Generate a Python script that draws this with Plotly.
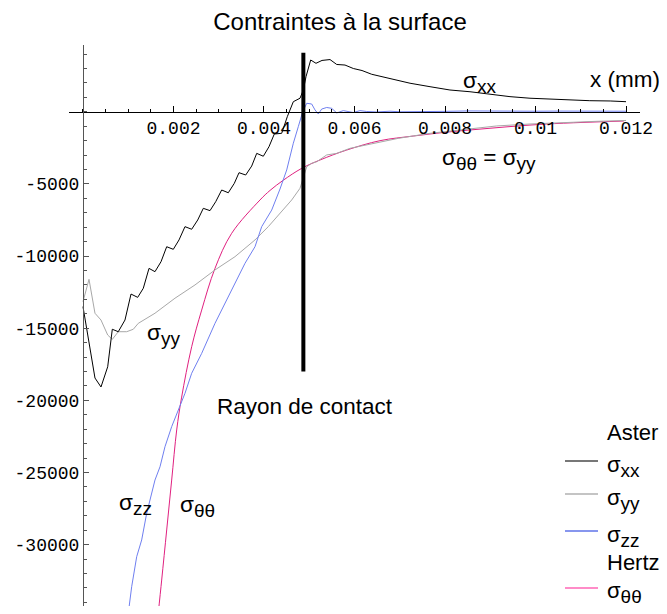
import plotly.graph_objects as go

# ---------------- data ----------------
x_xx = [0, 0.000265, 0.000398, 0.000546, 0.000648, 0.00078, 0.000928, 0.001061, 0.001209, 0.001333,
        0.001459, 0.001591, 0.001724, 0.00185, 0.001996, 0.002122, 0.002254, 0.002402, 0.002535, 0.002659,
        0.002807, 0.002933, 0.003065, 0.003211, 0.003344, 0.003448, 0.003596, 0.003728, 0.003839, 0.003985,
        0.00411, 0.004228, 0.004391, 0.004515, 0.004648, 0.004796, 0.004869, 0.004928, 0.005032, 0.005149,
        0.005282, 0.005459, 0.005607, 0.00579, 0.005974, 0.006166, 0.00638, 0.006785, 0.007227, 0.007669,
        0.00811, 0.008552, 0.008994, 0.009436, 0.009878, 0.01032, 0.01076, 0.0112, 0.01165, 0.012]
y_xx = [-13500, -18450, -19070, -17670, -15070, -15240, -14430, -12630, -12860, -12230,
        -10850, -11080, -10390, -9350, -9530, -8880, -7960, -8140, -7500, -6690,
        -6850, -6230, -5420, -5610, -4960, -4220, -4380, -3760, -2880, -3080,
        -2420, -1540, -1490, -340, 700, 940, 1510, 2430, 3590, 3360,
        3560, 3620, 3280, 3240, 3000, 2860, 2600, 2320, 1980, 1740,
        1510, 1390, 1210, 1050, 940, 870, 820, 770, 750, 700]

x_yy = [0, 0.000133, 0.000265, 0.000398, 0.000546, 0.000648, 0.00078, 0.000966, 0.001112, 0.001222,
        0.001591, 0.002033, 0.002475, 0.002917, 0.003359, 0.003801, 0.004095, 0.004391, 0.004612, 0.004796,
        0.004869, 0.004944, 0.005054, 0.005165, 0.005386, 0.005607, 0.005901, 0.00627, 0.006637, 0.006968,
        0.007669, 0.008404, 0.009142, 0.009878, 0.010614, 0.011352, 0.012]
y_yy = [-13160, -11610, -13960, -14430, -15470, -15770, -15240, -15240, -15070, -14660,
        -13960, -12920, -12000, -10960, -10040, -8880, -7960, -6920, -6110, -5300,
        -4500, -3810, -3570, -3460, -2990, -2880, -2530, -2300, -2070, -1840,
        -1490, -1210, -980, -845, -740, -660, -600]

x_zz = [0.001001, 0.001076, 0.001187, 0.001297, 0.001408, 0.001518, 0.001591, 0.001702, 0.001812, 0.00196,
        0.002106, 0.002254, 0.002402, 0.002623, 0.002917, 0.003249, 0.00358, 0.003801, 0.003949, 0.00417,
        0.004354, 0.004502, 0.004575, 0.004648, 0.004758, 0.004855, 0.004944, 0.005054, 0.005127, 0.0052,
        0.005275, 0.005386, 0.005496, 0.005607, 0.005753, 0.005974, 0.006122, 0.00627, 0.00649, 0.006785,
        0.007006, 0.0075, 0.008, 0.0085, 0.009, 0.0095, 0.01, 0.0105, 0.011, 0.0115, 0.012]
y_zz = [-34750, -32910, -30830, -29670, -27820, -26440, -25520, -24600, -23210, -21820,
        -20670, -19510, -18120, -16740, -14660, -12580, -10500, -9350, -7960, -6810,
        -5350, -4030, -3110, -2180, -1030, 0, 590, 540, 130, -150,
        190, 300, 240, -80, 80, -50, 80, 20, -10, 40,
        0, 40, 30, 60, 40, 50, 40, 50, 40, 50, 40]

x_tt = [0.001664, 0.001739, 0.00185, 0.00196, 0.002071, 0.002177, 0.002402, 0.002623, 0.002917, 0.003286,
        0.003912, 0.004133, 0.004427, 0.004833, 0.005238, 0.005828, 0.006564, 0.0073, 0.008038, 0.008773,
        0.009878, 0.010614, 0.01195]
y_tt = [-34730, -32450, -28980, -25520, -22050, -19830, -16280, -13740, -10850, -8420,
        -6110, -5450, -4740, -3920, -3340, -2650, -2000, -1680, -1410, -1200,
        -920, -790, -640]

contact_x = [0.00487, 0.00487]
contact_y = [4100, -18000]

x_tickvals = [0.002, 0.004, 0.006, 0.008, 0.010, 0.012]
x_ticktext = ["0.002", "0.004", "0.006", "0.008", "0.01", "0.012"]
y_tickvals = [-30000, -25000, -20000, -15000, -10000, -5000]
y_ticktext = ["-30000", "-25000", "-20000", "-15000", "-10000", "-5000"]

x_range = [-0.000309, 0.012309]
y_range = [-34248, 4629]

legend_labels = ["Aster", "xx", "yy", "zz", "Hertz", "θθ"]
legend_colors = [None, "#777777", "#c4c4c4", "#8796ee", None, "#ff8cc8"]

SANS = "Liberation Sans, Arial, sans-serif"
MONO = "Liberation Mono, Courier New, monospace"


def sig(sub, size=19):
    return "σ<sub><span style='font-size:%spx'>%s</span></sub>" % (size, sub)


fig = go.Figure()

fig.add_trace(go.Scatter(x=x_tt, y=y_tt, mode="lines", line=dict(color="#e0207f", width=1, shape="spline"),
                         showlegend=False, hoverinfo="skip"))
fig.add_trace(go.Scatter(x=x_yy, y=y_yy, mode="lines", line=dict(color="#a8a8a8", width=1),
                         showlegend=False, hoverinfo="skip"))
fig.add_trace(go.Scatter(x=x_zz, y=y_zz, mode="lines", line=dict(color="#6f7ff0", width=1),
                         showlegend=False, hoverinfo="skip"))
fig.add_trace(go.Scatter(x=x_xx, y=y_xx, mode="lines", line=dict(color="#000000", width=1),
                         showlegend=False, hoverinfo="skip"))
fig.add_trace(go.Scatter(x=contact_x, y=contact_y, mode="lines", line=dict(color="#000000", width=4),
                         showlegend=False, hoverinfo="skip"))

xpos = (0 - y_range[0]) / (y_range[1] - y_range[0])
ypos = (0 - x_range[0]) / (x_range[1] - x_range[0])

annots = [
    dict(x=0.00877, y=2065, text=sig("xx")),
    dict(x=0.00897, y=-3340, text=sig("θθ") + " = " + sig("yy")),
    dict(x=0.00177, y=-15467, text=sig("yy")),
    dict(x=0.00115, y=-27248, text=sig("zz")),
    dict(x=0.00252, y=-27387, text=sig("θθ")),
    dict(x=0.00491, y=-20450, text="Rayon de contact"),
    dict(x=-0.00075, y=2204, text="σ (MPa)"),
    dict(x=0.01198, y=2204, text="x (mm)"),
]
for a in annots:
    fig.add_annotation(x=a["x"], y=a["y"], text=a["text"], showarrow=False, xref="x", yref="y",
                       xanchor="center", yanchor="middle", font=dict(family=SANS, size=22.5, color="black"))

# ---- legend (drawn in plot-area fractions) ----
# screen pixel -> plot-area fraction (plot area: x 69..640, y 45..606 on screen)
PX = lambda s: (s - 69) / 571
PY = lambda s: (606 - s) / 561
legend_text_y = [432, 466, 499, 536, 562, 592]
legend_line_y = [None, 461, 494, 531, None, 588]
for lab, col, ty, ly in zip(legend_labels, legend_colors, legend_text_y, legend_line_y):
    txt = lab if col is None else sig(lab)
    fig.add_annotation(x=PX(605), y=PY(ty), xref="paper", yref="paper", text=txt, showarrow=False,
                       xanchor="left", yanchor="middle", font=dict(family=SANS, size=22, color="black"))
    if col is not None:
        fig.add_shape(type="line", xref="paper", yref="paper", x0=PX(565), x1=PX(598), y0=PY(ly), y1=PY(ly),
                      line=dict(color=col, width=2))

# the page body adds an 8px margin around the figure; size it so the page has no scrollbars
W, H = 659, 598
fig.update_layout(
    width=W, height=H,
    margin=dict(l=61, r=27, t=37, b=0, autoexpand=False),
    paper_bgcolor="white", plot_bgcolor="white",
    title=dict(text="Contraintes à la surface", x=332 / W, xref="container", xanchor="center",
               y=1 - 14 / H, yref="container", yanchor="middle",
               font=dict(family=SANS, size=24, color="black")),
    showlegend=False,
    xaxis=dict(range=x_range, anchor="free", position=xpos, automargin=False, showline=True,
               linecolor="black", linewidth=1,
               zeroline=False, showgrid=False, tickvals=x_tickvals, ticktext=x_ticktext,
               ticks="inside", ticklen=6, tickcolor="black", tickwidth=1,
               minor=dict(dtick=0.0005, tick0=0, ticks="inside", ticklen=3, tickcolor="black", showgrid=False),
               tickfont=dict(family=MONO, size=18, color="black")),
    yaxis=dict(range=y_range, anchor="free", position=ypos, side="left", automargin=False, showline=True,
               linecolor="#555555",
               linewidth=1, zeroline=False, showgrid=False, tickvals=y_tickvals, ticktext=y_ticktext,
               ticks="inside", ticklen=5, tickcolor="#555555", tickwidth=1,
               minor=dict(dtick=1000, tick0=0, ticks="inside", ticklen=3, tickcolor="#555555", showgrid=False),
               tickfont=dict(family=MONO, size=18, color="black")),
)

fig.write_html("out.html")
